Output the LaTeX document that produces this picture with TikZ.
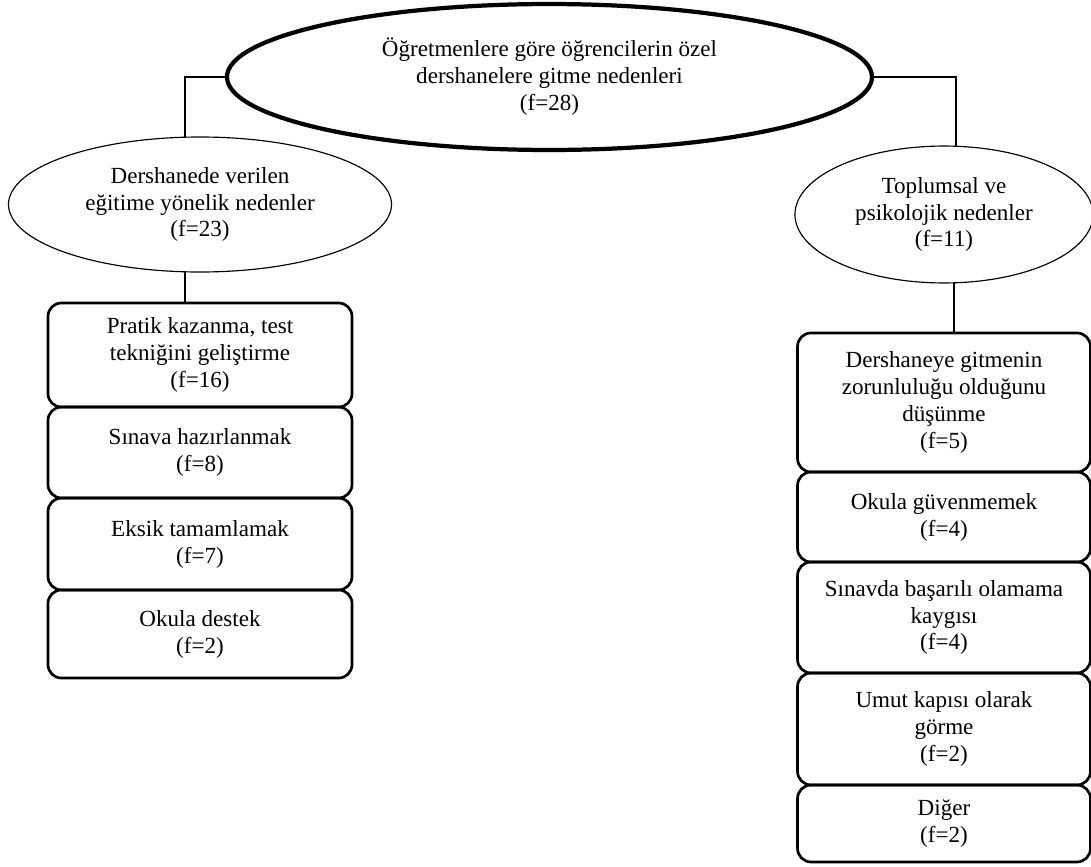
\documentclass[tikz,border=0pt]{standalone}
\usepackage{fontspec}
\setmainfont{Liberation Serif}
\usetikzlibrary{shapes.geometric,calc}
\tikzset{
  txt/.style={font=\fontsize{12}{14}\selectfont, align=center, inner sep=0pt, outer sep=0pt},
  mainell/.style={txt, ellipse, draw, line width=2.2pt},
  subell/.style={txt, ellipse, draw, line width=0.6pt},
  reasonbox/.style={txt, rectangle, rounded corners=7pt, draw, line width=1.4pt},
  leftbox/.style={reasonbox, minimum width=158.1pt},
  rightbox/.style={reasonbox, minimum width=152.3pt},
  link/.style={line width=1.4pt}
}
\begin{document}
\begin{tikzpicture}[x=0.52pt, y=-0.52pt]
\useasboundingbox (0,0) rectangle (1091,867);

% top
\node[mainell, minimum width=335.4pt, minimum height=75.9pt] (main) at (549.5,77)
  {Öğretmenlere göre öğrencilerin özel\\dershanelere gitme nedenleri\\(f=28)};

% left branch
\node[subell, minimum width=199.2pt, minimum height=70.2pt] (lell) at (200,204.5)
  {Dershanede verilen\\eğitime yönelik nedenler\\(f=23)};
\node[leftbox, minimum height=54.1pt] (l1) at (200,355) {Pratik kazanma, test\\tekniğini geliştirme\\(f=16)};
\node[leftbox, minimum height=47.3pt] (l2) at (200,452.5) {Sınava hazırlanmak\\(f=8)};
\node[leftbox, minimum height=47.8pt] (l3) at (200,544) {Eksik tamamlamak\\(f=7)};
\node[leftbox, minimum height=45.8pt] (l4) at (200,634) {Okula destek\\(f=2)};

% right branch
\node[subell, minimum width=155pt, minimum height=71.2pt] (rell) at (944,214.5)
  {Toplumsal ve\\psikolojik nedenler\\(f=11)};
\node[rightbox, minimum height=72.3pt] (r1) at (944,402.5) {Dershaneye gitmenin\\zorunluluğu olduğunu\\düşünme\\(f=5)};
\node[rightbox, minimum height=46.8pt] (r2) at (944,517) {Okula güvenmemek\\(f=4)};
\node[rightbox, minimum height=57.7pt] (r3) at (944,617.5) {Sınavda başarılı olamama\\kaygısı\\(f=4)};
\node[rightbox, minimum height=58.2pt] (r4) at (944,729) {Umut kapısı olarak\\görme\\(f=2)};
\node[rightbox, minimum height=40pt] (r5) at (944,823.5) {Diğer\\(f=2)};

% connectors
\draw[link] (main.west) -| ($(lell.north)+(-15,0)$);
\draw[link] ($(lell.south)+(-15,0)$) -- ($(l1.north)+(-15,0)$);
\draw[link] (main.east) -| ($(rell.north)+(12,0)$);
\draw[link] ($(rell.south)+(10,0)$) -- ($(r1.north)+(10,0)$);
\end{tikzpicture}
\end{document}
